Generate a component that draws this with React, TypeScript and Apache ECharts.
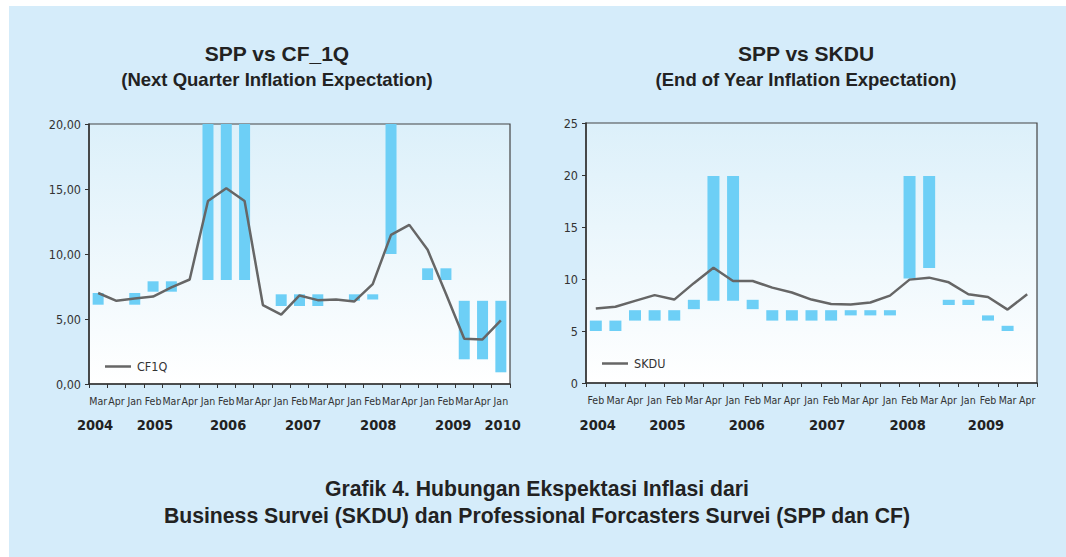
import React, { useEffect, useRef } from "react";
import * as echarts from "echarts";

// ---------- data ----------
const leftMonths = ["Mar","Apr","Jan","Feb","Mar","Apr","Jan","Feb","Mar","Apr","Jan","Feb","Mar","Apr","Jan","Feb","Mar","Apr","Jan","Feb","Mar","Apr","Jan"];
const leftYears = ["2004","2005","2006","2007","2008","2009","2010"];
const leftYearAt = [-0.17, 3.1, 7.1, 11.2, 15.3, 19.4, 22.1];
const cf1q = [7.0,6.4,6.58,6.73,7.43,8.04,14.08,15.06,14.08,6.07,5.33,6.81,6.45,6.5,6.35,7.68,11.47,12.24,10.32,6.94,3.48,3.43,4.89];
const sppLeftLow = [6.1,null,6.1,7.1,7.1,null,8.0,8.0,8.0,null,6.0,6.0,6.0,null,6.4,6.5,10.0,null,8.0,8.0,1.9,1.9,0.9];
const sppLeftHigh = [7.0,null,7.0,7.9,7.9,null,20,20,20,null,6.9,6.9,6.9,null,6.9,6.9,20,null,8.9,8.9,6.4,6.4,6.4];
const leftYTicks = [0, 5, 10, 15, 20];

const rightMonths = ["Feb","Mar","Apr","Jan","Feb","Mar","Apr","Jan","Feb","Mar","Apr","Jan","Feb","Mar","Apr","Jan","Feb","Mar","Apr","Jan","Feb","Mar","Apr"];
const rightYears = ["2004","2005","2006","2007","2008","2009"];
const rightYearAt = [0.1, 3.65, 7.7, 11.8, 15.9, 19.9];
const skdu = [7.16,7.33,7.9,8.45,8.02,9.6,11.09,9.81,9.81,9.17,8.7,8.02,7.6,7.54,7.74,8.4,9.94,10.13,9.68,8.53,8.27,7.06,8.53];
const sppRightLow = [5,5,6,6,6,7.1,7.9,7.9,7.1,6,6,6,6,6.5,6.5,6.5,10.05,11.05,7.5,7.5,6,5,null];
const sppRightHigh = [6,6,7,7,7,8,19.9,19.9,8,7,7,7,7,7,7,7,19.9,19.9,8,8,6.5,5.5,null];
const rightYTicks = [0, 5, 10, 15, 20, 25];

// ---------- styles ----------
const PANEL = "#d5ecfa";
const BAR = "#6dcff6";
const LINE = "#666666";
const TXT = "#333333";
const NARROW = "'Liberation Sans Narrow','DejaVu Sans Condensed','Roboto Condensed',sans-serif";
const BOLD = "'Liberation Sans',Arial,Helvetica,sans-serif";

const L = { left: 89, top: 124, width: 421, height: 260 };
const R = { left: 586, top: 123, width: 451, height: 260 };

function diff(lo: (number | null)[], hi: (number | null)[]) {
  return lo.map((v, i) => (v == null || hi[i] == null ? null : +((hi[i] as number) - v).toFixed(2)));
}

export default function App() {
  const ref = useRef<HTMLDivElement>(null);
  useEffect(() => {
    if (!ref.current) return;
    const chart = echarts.init(ref.current, null, { renderer: "svg" });
    const grad = () =>
      new echarts.graphic.LinearGradient(0, 0, 0, 1, [
        { offset: 0, color: "#dcf0fa" },
        { offset: 1, color: "#ffffff" },
      ]);
    const xAxisCommon = {
      type: "category" as const,
      axisLine: { lineStyle: { color: "#333", width: 1.5 } },
      axisTick: { show: true, length: 4, lineStyle: { color: "#333" } },
      axisLabel: { interval: 0, fontSize: 10.5, color: TXT, fontFamily: NARROW, margin: 11 },
      splitLine: { show: false },
    };
    const yAxisCommon = {
      type: "value" as const,
      min: 0,
      interval: 5,
      axisLine: { show: true, lineStyle: { color: "#333", width: 1.5 } },
      axisTick: { show: true, length: 4, lineStyle: { color: "#333" } },
      splitLine: { show: false },
    };
    const bandL = L.width / leftMonths.length;
    const bandR = R.width / rightMonths.length;
    const graphics: any[] = [
      { type: "rect", z: -10, shape: { x: 9, y: 6, width: 1066, height: 557 }, style: { fill: PANEL } },
      { type: "text", x: 277, y: 53, style: { text: "SPP vs CF_1Q", font: `bold 21px ${BOLD}`, fill: "#222", textAlign: "center", textVerticalAlign: "middle" } },
      { type: "text", x: 277, y: 79, style: { text: "(Next Quarter Inflation Expectation)", font: `bold 18.5px ${BOLD}`, fill: "#222", textAlign: "center", textVerticalAlign: "middle" } },
      { type: "text", x: 806, y: 53, style: { text: "SPP vs SKDU", font: `bold 21px ${BOLD}`, fill: "#222", textAlign: "center", textVerticalAlign: "middle" } },
      { type: "text", x: 806, y: 79, style: { text: "(End of Year Inflation Expectation)", font: `bold 18.5px ${BOLD}`, fill: "#222", textAlign: "center", textVerticalAlign: "middle" } },
      { type: "text", x: 537, y: 488, style: { text: "Grafik 4. Hubungan Ekspektasi Inflasi dari", font: `bold 21.2px ${BOLD}`, fill: "#222", textAlign: "center", textVerticalAlign: "middle" } },
      { type: "text", x: 537, y: 515, style: { text: "Business Survei (SKDU) dan Professional Forcasters Survei (SPP dan CF)", font: `bold 21.2px ${BOLD}`, fill: "#222", textAlign: "center", textVerticalAlign: "middle" } },
    ];
    leftYears.forEach((y, i) => {
      graphics.push({ type: "text", x: L.left + (leftYearAt[i] + 0.5) * bandL, y: 425, style: { text: y, font: `bold 14.5px ${NARROW}`, fill: "#222", textAlign: "center", textVerticalAlign: "middle" } });
    });
    rightYears.forEach((y, i) => {
      graphics.push({ type: "text", x: R.left + (rightYearAt[i] + 0.5) * bandR, y: 425, style: { text: y, font: `bold 14.5px ${NARROW}`, fill: "#222", textAlign: "center", textVerticalAlign: "middle" } });
    });

    const legendCommon = {
      icon: "rect",
      itemWidth: 26,
      itemHeight: 2.5,
      itemGap: 4,
      textStyle: { fontSize: 12.5, color: TXT, fontFamily: NARROW, padding: [0, 0, 0, 1] },
    };

    chart.setOption({
      animation: false,
      backgroundColor: "#ffffff",
      graphic: graphics,
      grid: [
        { ...L, show: true, backgroundColor: grad(), borderColor: "#444", borderWidth: 1.2 },
        { ...R, show: true, backgroundColor: grad(), borderColor: "#444", borderWidth: 1.2 },
      ],
      legend: [
        { ...legendCommon, data: ["CF1Q"], left: 100, top: 355 },
        { ...legendCommon, data: ["SKDU"], left: 597, top: 352 },
      ],
      xAxis: [
        { ...xAxisCommon, gridIndex: 0, data: leftMonths },
        { ...xAxisCommon, gridIndex: 1, data: rightMonths },
      ],
      yAxis: [
        {
          ...yAxisCommon, gridIndex: 0, max: leftYTicks[leftYTicks.length - 1],
          axisLabel: { fontSize: 12.5, color: TXT, fontFamily: NARROW, margin: 8, formatter: (v: number) => v.toFixed(2).replace(".", ",") },
        },
        {
          ...yAxisCommon, gridIndex: 1, max: rightYTicks[rightYTicks.length - 1],
          axisLabel: { fontSize: 12.5, color: TXT, fontFamily: NARROW, margin: 8 },
        },
      ],
      series: [
        { type: "bar", name: "baseL", xAxisIndex: 0, yAxisIndex: 0, stack: "l", barWidth: 11, itemStyle: { color: "transparent" }, data: sppLeftLow, silent: true },
        { type: "bar", name: "SPP_L", xAxisIndex: 0, yAxisIndex: 0, stack: "l", barWidth: 11, itemStyle: { color: BAR }, data: diff(sppLeftLow, sppLeftHigh) },
        { type: "line", name: "CF1Q", xAxisIndex: 0, yAxisIndex: 0, data: cf1q, symbol: "none", lineStyle: { color: LINE, width: 2.5 }, itemStyle: { color: LINE }, z: 5 },
        { type: "bar", name: "baseR", xAxisIndex: 1, yAxisIndex: 1, stack: "r", barWidth: 12, itemStyle: { color: "transparent" }, data: sppRightLow, silent: true },
        { type: "bar", name: "SPP_R", xAxisIndex: 1, yAxisIndex: 1, stack: "r", barWidth: 12, itemStyle: { color: BAR }, data: diff(sppRightLow, sppRightHigh) },
        { type: "line", name: "SKDU", xAxisIndex: 1, yAxisIndex: 1, data: skdu, symbol: "none", lineStyle: { color: LINE, width: 2.5 }, itemStyle: { color: LINE }, z: 5 },
      ],
    });
    return () => chart.dispose();
  }, []);
  return <div ref={ref} style={{ position: "fixed", left: 0, top: 0, width: 1066, height: 557 }} />;
}
